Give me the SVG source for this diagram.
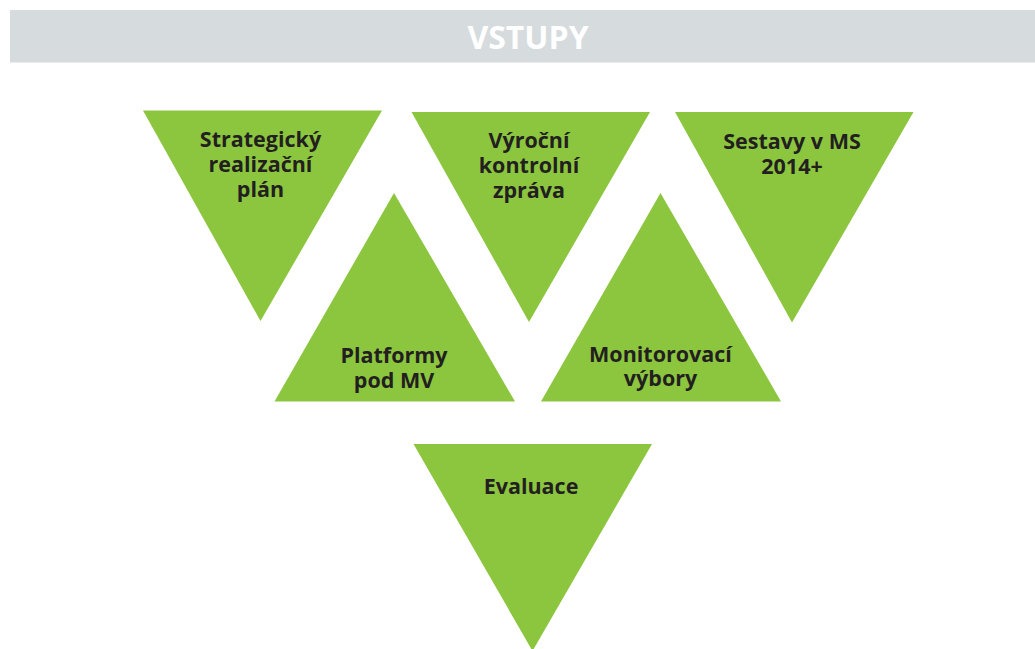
<svg xmlns="http://www.w3.org/2000/svg" width="1035" height="649" viewBox="0 0 1035 649">
<style>
.tri{fill:#8cc63f}
.lbl{font-family:"Open Sans","Liberation Sans",sans-serif;font-weight:700;font-size:21.5px;fill:#231f20;text-anchor:middle}
.title{font-family:"Open Sans","Liberation Sans",sans-serif;font-weight:700;font-size:32px;fill:#ffffff;text-anchor:middle}
</style>
<rect x="0" y="0" width="1035" height="649" fill="#ffffff"/>
<g id="header">
<rect x="10" y="10" width="1025" height="52.5" fill="#d6dbde"/>
<text class="title" x="528" y="49">VSTUPY</text>
</g>
<g id="node-strategicky">
<polygon class="tri" points="143,110.5 382,110.5 260.5,321"/>
<text class="lbl" x="260.5" y="147">Strategický<tspan x="260.5" dy="25">realizační</tspan><tspan x="260.5" dy="25">plán</tspan></text>
</g>
<g id="node-vyrocni">
<polygon class="tri" points="411.5,112 650,112 529,322"/>
<text class="lbl" x="529" y="148">Výroční<tspan x="529" dy="25">kontrolní</tspan><tspan x="529" dy="25">zpráva</tspan></text>
</g>
<g id="node-sestavy">
<polygon class="tri" points="675,112 913.5,112 792,322.5"/>
<text class="lbl" x="792" y="149">Sestavy v MS<tspan x="792" dy="25">2014+</tspan></text>
</g>
<g id="node-platformy">
<polygon class="tri" points="394,193 515,401.5 274.5,401.5"/>
<text class="lbl" x="394" y="363">Platformy<tspan x="394" dy="25">pod MV</tspan></text>
</g>
<g id="node-monitorovaci">
<polygon class="tri" points="660.5,193 781,401.5 541,401.5"/>
<text class="lbl" x="660.5" y="362">Monitorovací<tspan x="660.5" dy="24">výbory</tspan></text>
</g>
<g id="node-evaluace">
<polygon class="tri" points="413.5,444 652,444 532.5,651"/>
<text class="lbl" x="531" y="493.5">Evaluace</text>
</g>
<g id="connectors"></g>
</svg>
